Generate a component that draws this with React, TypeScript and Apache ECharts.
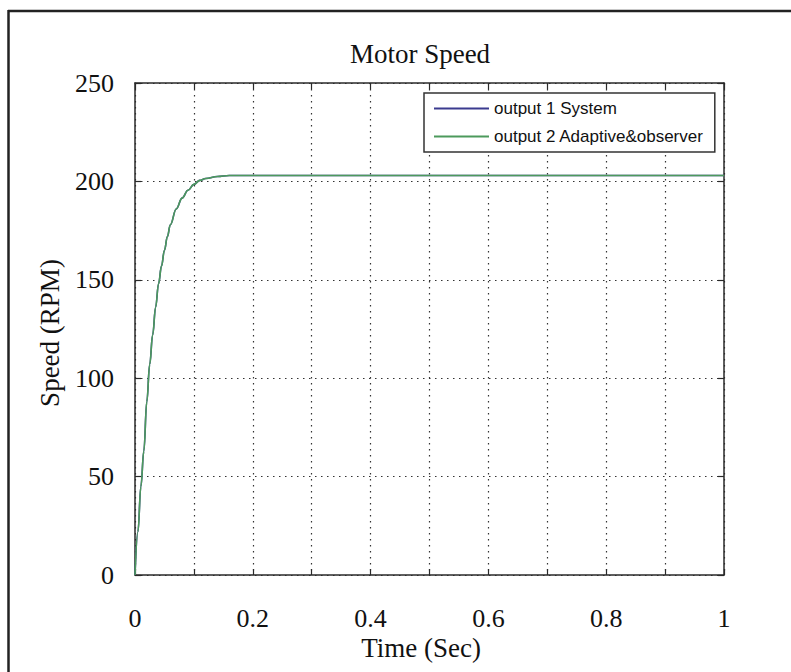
import React, { useEffect, useRef } from "react";
import * as echarts from "echarts";

const timeSec = [0, 0.005, 0.01, 0.015, 0.02, 0.025, 0.03, 0.035, 0.04, 0.045, 0.05, 0.055, 0.06, 0.07, 0.08, 0.09, 0.1, 0.11, 0.12, 0.14, 0.16, 0.18, 0.2, 0.3, 0.4, 0.5, 0.6, 0.7, 0.8, 0.9, 1.0];
const systemRpm = [0, 22, 45, 63, 88, 107, 122, 136, 148, 157, 165, 172, 178, 186, 191.5, 195.5, 198.5, 200.5, 201.5, 202.5, 203, 203, 203, 203, 203, 203, 203, 203, 203, 203, 203];
const observerRpm = [0, 22, 45, 63, 88, 107, 122, 136, 148, 157, 165, 172, 178, 186, 191.5, 195.5, 198.5, 200.5, 201.5, 202.5, 203, 203, 203, 203, 203, 203, 203, 203, 203, 203, 203];
const xLabelValues = [0, 0.2, 0.4, 0.6, 0.8, 1];
const seriesNames = ["output 1 System", "output 2 Adaptive&observer"];
const seriesColors = ["#3b3b8f", "#4c9a5c"];
const titleText = "Motor Speed";
const xName = "Time (Sec)";
const yName = "Speed (RPM)";

const SERIF = '"Liberation Serif", "Times New Roman", serif';
const SANS = '"Liberation Sans", Arial, sans-serif';
const AX = "#2a2a2a";

export default function App() {
  const ref = useRef<HTMLDivElement>(null);
  useEffect(() => {
    const chart = echarts.init(ref.current!, null, { renderer: "svg" });
    const axisLine = { show: true, onZero: false, lineStyle: { color: AX, width: 1.5 } };
    const axisTick = { show: true, inside: true, length: 6, lineStyle: { color: AX, width: 1.2 } };
    const split = { show: true, lineStyle: { type: [1.5, 4.5], color: "#333", width: 1.2 } };
    chart.setOption({
      animation: false,
      backgroundColor: "#fff",
      grid: { left: 135, top: 83, right: 67, bottom: 97, show: false },
      xAxis: [
        {
          type: "value", min: 0, max: 1, interval: 0.1, position: "bottom",
          axisLine, axisTick,
          axisLabel: {
            margin: 30, fontSize: 26, fontFamily: SERIF, color: "#111",
            formatter: (v: number) =>
              xLabelValues.some((l) => Math.abs(l - v) < 1e-9) ? String(+v.toFixed(1)) : "",
          },
          splitLine: split,
        },
        {
          type: "value", min: 0, max: 1, interval: 0.1, position: "top",
          axisLine, axisTick, axisLabel: { show: false }, splitLine: { show: false },
        },
      ],
      yAxis: [
        {
          type: "value", min: 0, max: 250, interval: 50, position: "left",
          axisLine, axisTick,
          axisLabel: { margin: 21, fontSize: 26, fontFamily: SERIF, color: "#111" },
          splitLine: split,
        },
        {
          type: "value", min: 0, max: 250, interval: 50, position: "right",
          axisLine, axisTick, axisLabel: { show: false }, splitLine: { show: false },
        },
      ],
      legend: {
        orient: "vertical", left: 424, top: 93,
        padding: [7, 11, 7, 10], itemGap: 11, itemWidth: 55, itemHeight: 2,
        icon: "rect", borderColor: "#333", borderWidth: 1.5, backgroundColor: "#fff",
        textStyle: { fontSize: 17, fontFamily: SANS, color: "#111" },
        data: seriesNames,
      },
      series: [
        {
          name: seriesNames[0], type: "line", xAxisIndex: 0, yAxisIndex: 0,
          data: timeSec.map((t, i) => [t, systemRpm[i]]),
          showSymbol: false, smooth: 0.4, smoothMonotone: "x",
          lineStyle: { color: seriesColors[0], width: 1.6 }, itemStyle: { color: seriesColors[0] },
          z: 2,
        },
        {
          name: seriesNames[1], type: "line", xAxisIndex: 0, yAxisIndex: 0,
          data: timeSec.map((t, i) => [t, observerRpm[i]]),
          showSymbol: false, smooth: 0.4, smoothMonotone: "x",
          lineStyle: { color: seriesColors[1], width: 1.6 }, itemStyle: { color: seriesColors[1] },
          z: 3,
        },
      ],
      graphic: [
        { type: "line", shape: { x1: 8, y1: 11, x2: 791, y2: 11 }, style: { stroke: "#222", lineWidth: 2.5 } },
        { type: "line", shape: { x1: 8.5, y1: 10, x2: 8.5, y2: 672 }, style: { stroke: "#222", lineWidth: 2.5 } },
        {
          type: "text", x: 420, y: 54,
          style: { text: titleText, fontSize: 27, fontFamily: SERIF, fill: "#111", align: "center", verticalAlign: "middle" },
        },
        {
          type: "text", x: 421, y: 648,
          style: { text: xName, fontSize: 27, fontFamily: SERIF, fill: "#111", align: "center", verticalAlign: "middle" },
        },
        {
          type: "text", x: 50, y: 333, rotation: Math.PI / 2,
          style: { text: yName, fontSize: 27, fontFamily: SERIF, fill: "#111", align: "center", verticalAlign: "middle" },
        },
      ],
    });
    return () => chart.dispose();
  }, []);
  return (
    <div
      ref={ref}
      style={{ position: "fixed", left: 0, top: 0, width: 791, height: 672, background: "#fff" }}
    />
  );
}
